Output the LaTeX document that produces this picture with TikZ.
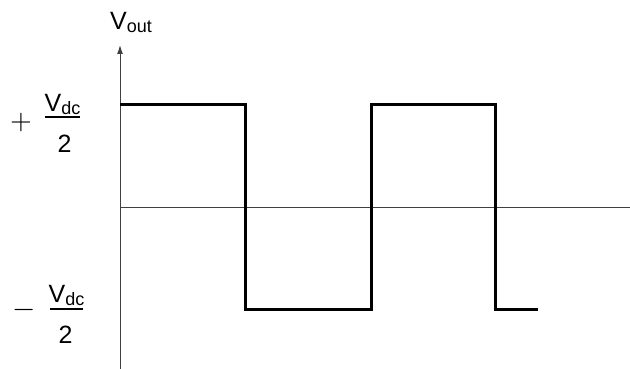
\documentclass[tikz,border=0pt]{standalone}
\usepackage{fontspec}
\setmainfont{Liberation Sans}
\usepackage{graphicx}
\usepackage{tikz}
\usetikzlibrary{arrows.meta}
\tikzstyle{lbl} = [inner sep=0pt, font=\fontsize{25}{28}\selectfont]
\tikzstyle{sgn} = [inner sep=0pt]
\tikzstyle{axis} = [line width=1pt, black!75]
\tikzstyle{wave} = [line width=3pt, line join=miter]
\tikzstyle{bar} = [line width=2pt]
\newcommand{\lowtext}[1]{\raisebox{-0.12em}{\fontsize{18}{18}\selectfont #1}}
\newcommand{\bigsign}[2]{\scalebox{#1}{$#2$}}

\begin{document}
\begin{tikzpicture}[x=1pt, y=-1pt]
\useasboundingbox (0,0) rectangle (630,369);

% axes
\coordinate (ybot) at (120,369);
\coordinate (ytop) at (120,45);
\coordinate (orig) at (120,207);
\coordinate (xend) at (630,207);
\draw[axis, -{Latex[length=9pt,width=6pt]}] (ybot) -- (ytop);
\draw[axis] (orig) -- (xend);

% square wave
\draw[wave] (120,105) -- (245,105) -- (245,309) -- (371,309)
  -- (371,105) -- (495,105) -- (495,309) -- (538,309);

% labels
\node[lbl, anchor=base west] (vout) at (110,30) {V\lowtext{out}};

\node[sgn] (plus) at (21,122) {\bigsign{2.8}{+}};
\node[lbl, anchor=base] (numhi) at (62.5,112) {V\lowtext{dc}};
\node[lbl, anchor=base] (denhi) at (64.5,153) {2};
\draw[bar] (45,117) -- (80,117);

\node[sgn] (minus) at (24.5,310) {\bigsign{3}{-}};
\node[lbl, anchor=base] (numlo) at (66.5,302) {V\lowtext{dc}};
\node[lbl, anchor=base] (denlo) at (65.5,343) {2};
\draw[bar] (50,309) -- (83,309);
\end{tikzpicture}
\end{document}
